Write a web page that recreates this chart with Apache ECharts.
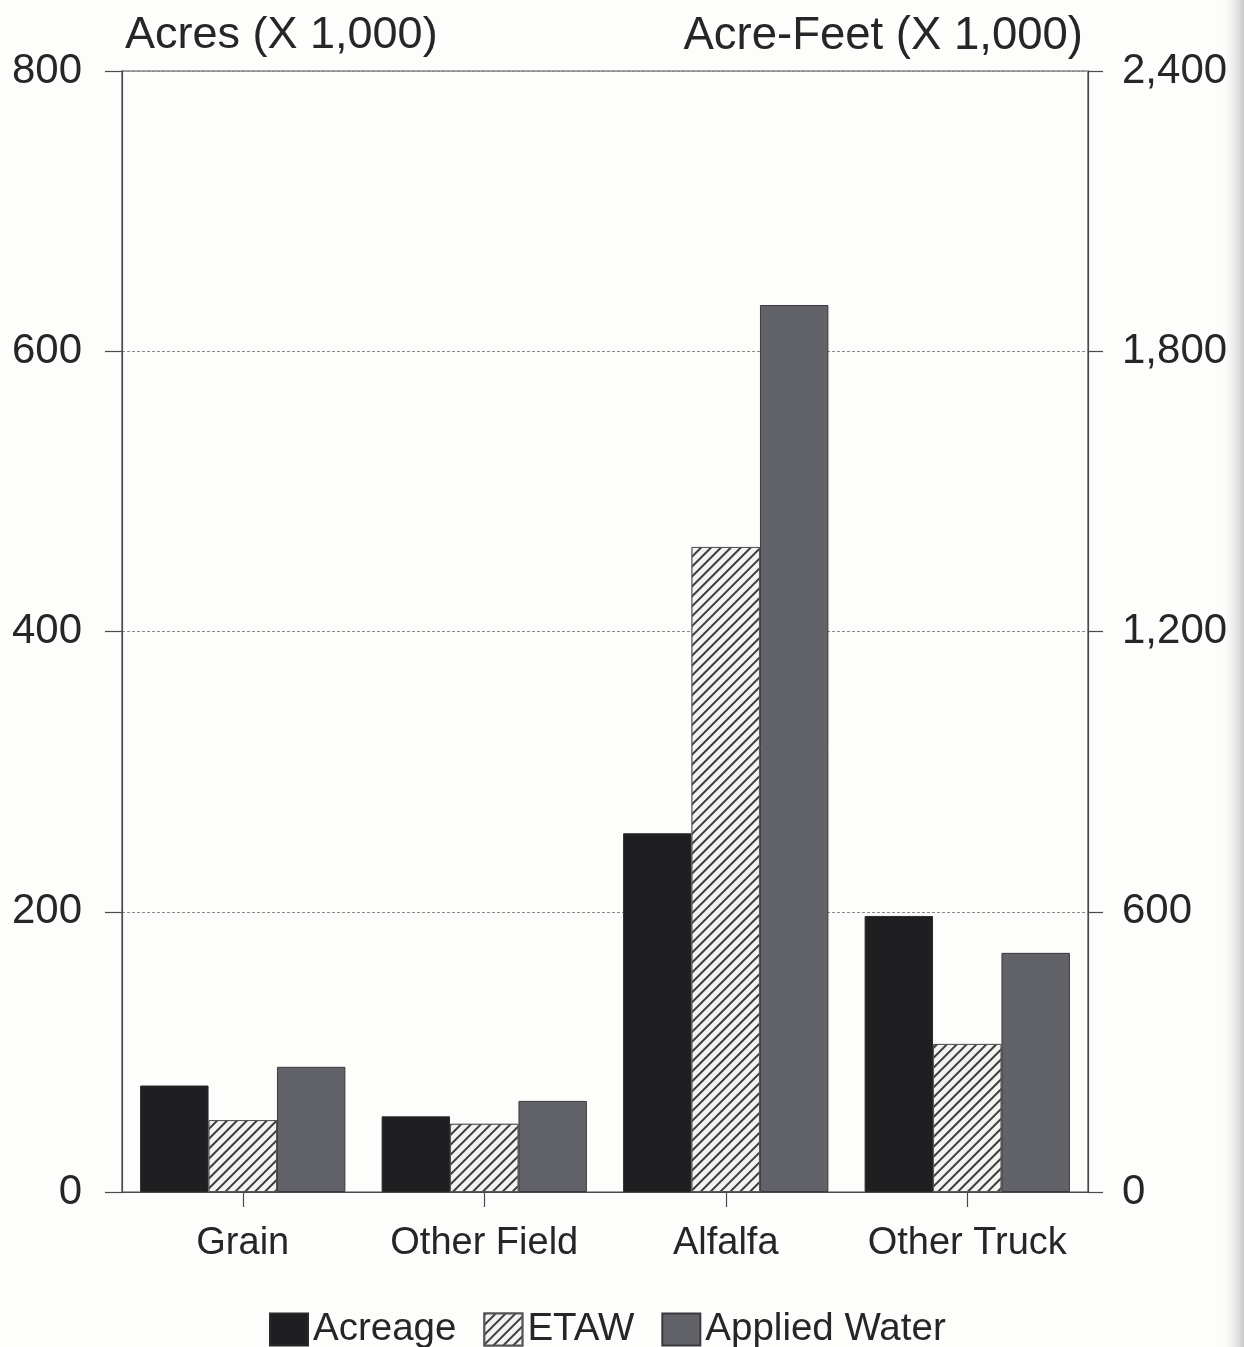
<!DOCTYPE html>
<html>
<head>
<meta charset="utf-8">
<script src="https://cdn.jsdelivr.net/npm/echarts@6/dist/echarts.min.js"></script>
<style>
html,body{margin:0;padding:0;background:#fdfdfc;}
#chart{width:1244px;height:1347px;}
</style>
</head>
<body>
<div id="chart"></div>
<script>
const categories = ['Grain', 'Other Field', 'Alfalfa', 'Other Truck'];
const acreage = [76, 54, 256, 197];
const etaw = [154, 146, 1381, 317];
const appliedWater = [268, 195, 1899, 512];
const leftTicks = [0, 200, 400, 600, 800];
const rightTicks = [0, 600, 1200, 1800, 2400];

const FONT = '"Liberation Sans", Arial, Helvetica, sans-serif';
const TXT = '#262626';
const AX = '#4a4a4a';

const chart = echarts.init(document.getElementById('chart'), null, {renderer: 'canvas'});
chart.setOption({
  backgroundColor: '#fdfdfc',
  animation: false,
  title: [
    {text: 'Acres (X 1,000)', left: 120, top: 8,
     textStyle: {fontFamily: FONT, fontSize: 45, fontWeight: 'normal', color: TXT}},
    {text: 'Acre-Feet (X 1,000)', right: 156, top: 8,
     textStyle: {fontFamily: FONT, fontSize: 45.5, fontWeight: 'normal', color: TXT}}
  ],
  grid: {left: 122, right: 156, top: 71, bottom: 155, show: true, borderColor: AX, borderWidth: 1.2, backgroundColor: 'transparent'},
  legend: {
    left: 264, top: 1305,
    itemWidth: 38, itemHeight: 32, itemGap: 27,
    icon: 'rect',
    textStyle: {fontFamily: FONT, fontSize: 38.5, color: TXT},
    data: ['Acreage', 'ETAW', 'Applied Water']
  },
  xAxis: {
    type: 'category', data: categories,
    axisLine: {lineStyle: {color: AX, width: 1.2}},
    axisTick: {show: true, alignWithLabel: true, interval: 0, length: 15, lineStyle: {color: AX, width: 1.2}},
    axisLabel: {fontFamily: FONT, fontSize: 38, color: TXT, margin: 33, interval: 0}
  },
  yAxis: [
    {type: 'value', min: leftTicks[0], max: leftTicks[leftTicks.length - 1], interval: 200, position: 'left',
     axisLine: {show: true, lineStyle: {color: AX, width: 1.2}},
     axisTick: {show: true, length: 17, lineStyle: {color: AX, width: 1.2}},
     axisLabel: {fontFamily: FONT, fontSize: 42, color: TXT, margin: 40},
     splitLine: {show: true, lineStyle: {color: '#8a8a8a', type: [3, 2], width: 1}}},
    {type: 'value', min: rightTicks[0], max: rightTicks[rightTicks.length - 1], interval: 600, position: 'right',
     axisLine: {show: true, lineStyle: {color: AX, width: 1.2}},
     axisTick: {show: true, length: 15, lineStyle: {color: AX, width: 1.2}},
     axisLabel: {fontFamily: FONT, fontSize: 42, color: TXT, margin: 34,
       formatter: v => v.toLocaleString('en-US')},
     splitLine: {show: false}}
  ],
  series: [
    {name: 'Acreage', type: 'bar', yAxisIndex: 0, data: acreage, barGap: '0%', barCategoryGap: '15%',
     itemStyle: {color: '#1f1f21', borderColor: '#2a2a2a', borderWidth: 1}},
    {name: 'ETAW', type: 'bar', yAxisIndex: 1, data: etaw, barGap: '0%', barCategoryGap: '15%',
     itemStyle: {color: '#f3f3f1', borderColor: '#555', borderWidth: 1,
       decal: {symbol: 'rect', symbolSize: 1, dashArrayX: [1, 0], dashArrayY: [1.6, 4.6], rotation: -Math.PI / 4, color: '#3c3c3c', backgroundColor: '#f3f3f1'}}},
    {name: 'Applied Water', type: 'bar', yAxisIndex: 1, data: appliedWater, barGap: '0%', barCategoryGap: '15%',
     itemStyle: {color: '#626369', borderColor: '#3a3a3e', borderWidth: 1}}
  ],
  graphic: [
    {type: 'rect', left: 1220, top: 0, shape: {width: 24, height: 1347}, silent: true, z: -1,
     style: {fill: new echarts.graphic.LinearGradient(0, 0, 1, 0, [{offset: 0, color: 'rgba(253,253,252,0)'}, {offset: 1, color: '#c6c7c6'}])}}
  ]
});
</script>
</body>
</html>
